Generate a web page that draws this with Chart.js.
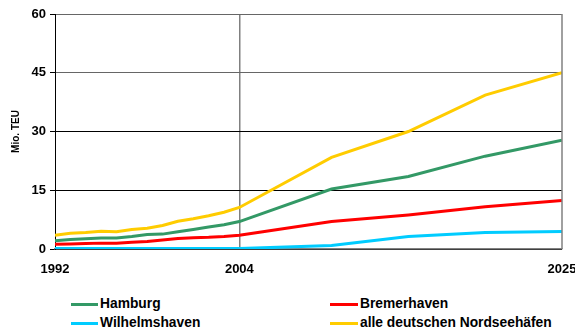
<!DOCTYPE html>
<html>
<head>
<meta charset="utf-8">
<script src="https://cdn.jsdelivr.net/npm/chart.js@4/dist/chart.umd.min.js"></script>
<style>
  html, body { margin: 0; padding: 0; background: #fff; }
  #wrap { position: relative; width: 575px; height: 332px; overflow: hidden; }
  #c { position: absolute; left: 0; top: 0; }
  .leg { position: absolute; font: bold 13.8px "Liberation Sans", Arial, sans-serif; color: #000; white-space: nowrap; line-height: 16px; }
</style>
</head>
<body>
<div id="wrap">
  <canvas id="c" width="575" height="292"></canvas>
</div>
<script>
// ---- data ----
const years = [1992, 1993, 1994, 1995, 1996, 1997, 1998, 1999, 2000, 2001, 2002, 2003, 2004, 2010, 2015, 2020, 2025];
const hamburg      = [2.1, 2.4, 2.6, 2.8, 2.8, 3.2, 3.7, 3.8, 4.4, 5.0, 5.6, 6.2, 7.0, 15.3, 18.5, 23.7, 27.8];
const bremerhaven  = [1.2, 1.3, 1.4, 1.5, 1.5, 1.7, 1.9, 2.3, 2.7, 2.9, 3.0, 3.2, 3.5, 7.0, 8.7, 10.8, 12.4];
const wilhelmshaven= [0.1, 0.1, 0.1, 0.1, 0.1, 0.1, 0.1, 0.1, 0.1, 0.1, 0.1, 0.1, 0.1, 0.9, 3.2, 4.2, 4.5];
const nordsee      = [3.5, 4.0, 4.2, 4.5, 4.4, 5.0, 5.3, 6.0, 7.1, 7.7, 8.5, 9.4, 10.6, 23.4, 30.0, 39.3, 45.0];
const xTicks = [1992, 2004, 2025];
const yTicks = [0, 15, 30, 45, 60];
const seriesNames = ["Hamburg", "Bremerhaven", "Wilhelmshaven", "alle deutschen Nordseehäfen"];
const seriesColors = ["#339966", "#FF0000", "#00CCFF", "#FFCC00"];
const yTitle = "Mio. TEU";

const pts = arr => arr.map((v, i) => ({ x: years[i], y: v }));
const allSeries = [hamburg, bremerhaven, wilhelmshaven, nordsee];

const FONT = "'Liberation Sans', Arial, sans-serif";

const borderPlugin = {
  id: 'borderPlugin',
  afterDatasetsDraw(chart) {
    const { ctx, chartArea: a } = chart;
    ctx.save();
    ctx.strokeStyle = '#808080';
    ctx.lineWidth = 1.5;
    ctx.beginPath();
    ctx.moveTo(a.right, a.top);
    ctx.lineTo(a.right, a.bottom);
    ctx.stroke();
    ctx.restore();
  }
};

const datasets = allSeries.map((arr, i) => ({
  label: seriesNames[i],
  data: pts(arr),
  borderColor: seriesColors[i],
  backgroundColor: seriesColors[i],
  borderWidth: 3,
  pointRadius: 0,
  tension: 0,
  fill: false
}));
datasets.forEach((d, i) => d.order = 4 - i);

new Chart(document.getElementById('c'), {
  type: 'line',
  data: { datasets },
  plugins: [borderPlugin],
  options: {
    responsive: false,
    animation: false,
    layout: { padding: { left: 0, right: 13, top: 14, bottom: 0 } },
    plugins: { legend: { display: false }, tooltip: { enabled: false } },
    scales: {
      x: {
        type: 'linear',
        min: 1992, max: 2025,
        afterBuildTicks: s => { s.ticks = xTicks.map(v => ({ value: v })); },
        afterFit: s => { s.height = 292 - 249; s.paddingRight = 0; s.paddingLeft = 0; },
        ticks: {
          font: { family: FONT, size: 13, weight: 'bold' },
          color: '#000',
          padding: 13,
          maxRotation: 0,
          autoSkip: false,
          callback: v => String(v)
        },
        grid: {
          drawTicks: false,
          color: c => (c.tick && c.tick.value === 2004) ? '#808080' : 'rgba(0,0,0,0)',
          lineWidth: 1.5
        },
        border: { display: true, color: '#808080', width: 1.5 }
      },
      y: {
        min: 0, max: 60,
        afterBuildTicks: s => { s.ticks = yTicks.map(v => ({ value: v })); },
        afterFit: s => { s.width = 55; },
        ticks: {
          font: { family: FONT, size: 13, weight: 'bold' },
          color: '#000',
          padding: 4
        },
        grid: {
          drawTicks: true,
          tickLength: 5,
          color: c => {
            const v = c.tick ? c.tick.value : 0;
            return (v === 45 || v === 60) ? '#666666' : '#000000';
          },
          tickColor: '#000',
          lineWidth: 1
        },
        border: { display: true, color: '#000', width: 1 },
        title: {
          display: true,
          text: yTitle,
          font: { family: FONT, size: 10, weight: 'bold' },
          color: '#000',
          padding: { top: 10, bottom: 0 }
        }
      }
    }
  }
});

// ---- HTML legend (2 columns) ----
const legPos = [
  { sw: 71, tx: 100, y: 296 },
  { sw: 330, tx: 360, y: 296 },
  { sw: 71, tx: 100, y: 315 },
  { sw: 330, tx: 360, y: 315 }
];
const wrap = document.getElementById('wrap');
seriesNames.forEach((name, i) => {
  const p = legPos[i];
  const sw = document.createElement('div');
  sw.style.cssText = `position:absolute;left:${p.sw}px;top:${p.y + 7}px;width:${p.tx - p.sw - 2}px;height:3px;background:${seriesColors[i]};`;
  wrap.appendChild(sw);
  const t = document.createElement('div');
  t.className = 'leg';
  t.style.left = p.tx + 'px';
  t.style.top = p.y + 'px';
  t.textContent = name;
  wrap.appendChild(t);
});
</script>
</body>
</html>
